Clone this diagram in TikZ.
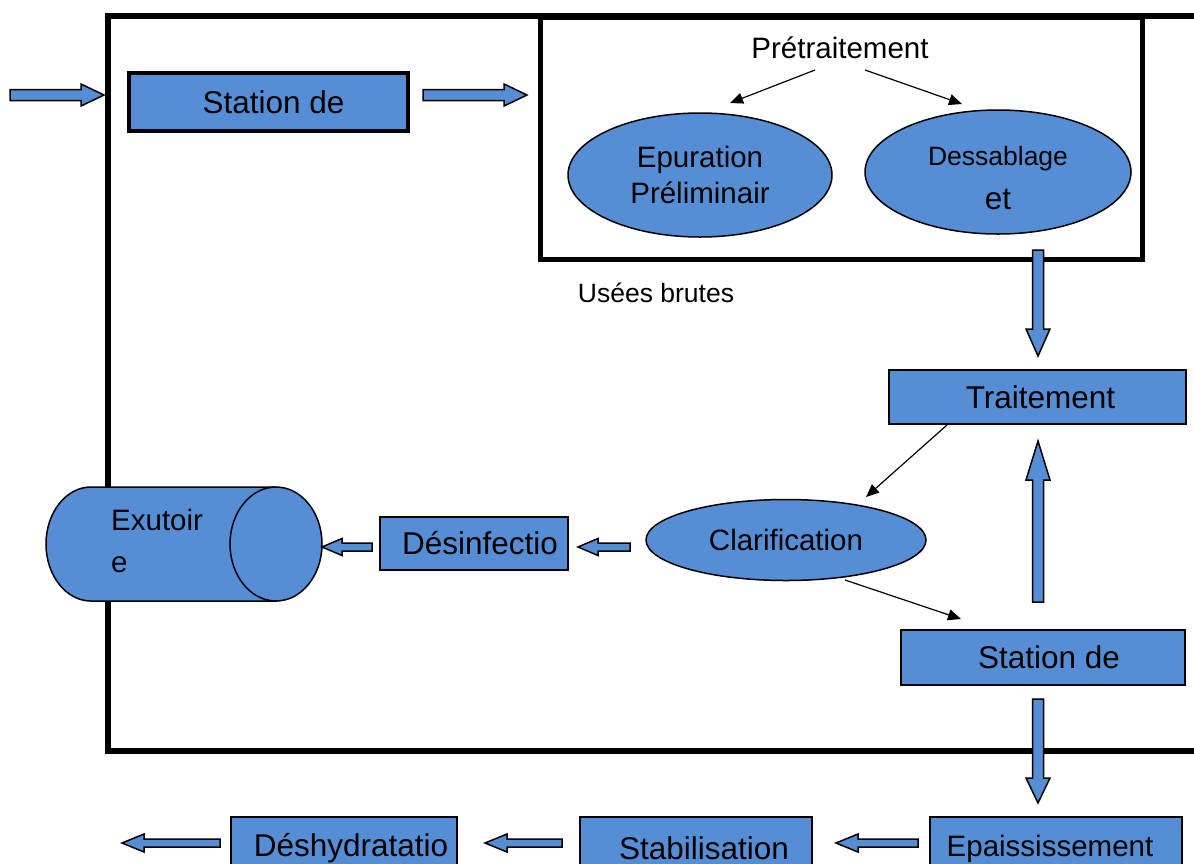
\documentclass[tikz,border=0pt]{standalone}
\usepackage{fontspec}
\setmainfont{Liberation Sans}
\usetikzlibrary{shapes.geometric,arrows.meta,calc}
\definecolor{boxblue}{RGB}{85,142,213}
\newcommand\fsA{\fontsize{31.5}{36}\selectfont}
\newcommand\fsB{\fontsize{29.5}{36}\selectfont}
\newcommand\fsC{\fontsize{26.5}{30}\selectfont}
% block arrow: #1 start, #2 tip, #3 half shaft, #4 half head, #5 head length
\newcommand\blockarr[5]{%
  \coordinate (ba-h) at ($(#2)!#5!(#1)$);
  \draw[blockarrow] ($(#1)!#3!90:(#2)$) -- ($(ba-h)!#3!90:(#2)$) -- ($(ba-h)!#4!90:(#2)$) -- (#2)
    -- ($(ba-h)!#4!-90:(#2)$) -- ($(ba-h)!#3!-90:(#2)$) -- ($(#1)!#3!-90:(#2)$) -- cycle;}
\begin{document}
\begin{tikzpicture}[x=1pt,y=-1pt,line join=miter,
  box/.style={draw=black, line width=1.5pt, fill=boxblue, inner sep=0pt, font=\fsA},
  oval/.style={ellipse, draw=black, line width=1.5pt, fill=boxblue, inner sep=0pt, align=center},
  blockarrow/.style={draw=black, line width=1.5pt, fill=boxblue},
  thinarrow/.style={draw=black, line width=1.2pt, -{Triangle[length=13pt,width=11pt]}},
  frameline/.style={draw=black, line width=6.5pt},
  innerline/.style={draw=black, line width=5pt}]
\useasboundingbox (0,0) rectangle (1194,863);
\clip (0,0) rectangle (1194,863);

% frames
\draw[frameline] (1210,16) -- (108,16) -- (108,751) -- (1210,751);
\draw[innerline] (540,17) rectangle (1142,259);

% top row
\node[box, line width=3.5pt, minimum width=279pt, minimum height=58pt] (st1) at (268.5,102) {\hspace*{10pt}Station de};
\node[font=\fsB] (pre) at (840,48) {Prétraitement};
\node[oval, minimum width=264pt, minimum height=124pt, font=\fontsize{29.5}{36}\selectfont] (epu) at (700,175) {Epuration\\Préliminair};
\node[oval, minimum width=266pt, minimum height=124pt,
  label={[font=\fontsize{26.5}{44}\selectfont, align=center, yshift=-6pt]center:{Dessablage\\{\fontsize{31.5}{44}\selectfont et}}}] (des) at (998,172) {};
\node[font=\fsC] (use) at (656,293) {Usées brutes};

% right column
\node[box, minimum width=297pt, minimum height=54pt] (tra) at (1037.5,397) {\hspace*{6pt}Traitement};
\node[oval, minimum width=280pt, minimum height=81pt, font=\fsB] (cla) at (786,540) {\raisebox{-2pt}{Clarification}};
\node[box, minimum width=284pt, minimum height=55pt] (st2) at (1043,657.5) {\hspace*{12pt}\raisebox{-2pt}{Station de}};
\node[box, minimum width=188pt, minimum height=53pt] (dsf) at (474,543.5) {\hspace*{12pt}\raisebox{-2pt}{Désinfectio}};

% cylinder (Exutoire)
\path[fill=boxblue, draw=black, line width=1.5pt] (276,487) -- (91,487)
  arc[start angle=90, end angle=270, x radius=45pt, y radius=57pt] -- (276,601) -- cycle;
\node[ellipse, draw=black, fill=boxblue, line width=1.5pt, minimum width=92pt, minimum height=114pt, inner sep=0pt] (exu) at (276,544) {};
\node[anchor=west, align=left, font=\fontsize{29.5}{42}\selectfont, inner sep=0pt] (exut) at (111,541) {Exutoir\\e};

% bottom row
\node[box, minimum width=252pt, minimum height=63pt, font=\fsB] (epa) at (1056,848.5) {\hspace*{-12pt}Epaississement};
\node[box, minimum width=232pt, minimum height=63pt] (sta) at (696,848.5) {\hspace*{16pt}Stabilisation};
\node[box, minimum width=226pt, minimum height=63pt] (dsh) at (344,848.5) {\hspace*{14pt}Déshydratatio};

% coordinates for connectors
\coordinate (in0) at (10,95);
\coordinate (in1) at (104,95);
\coordinate (o1) at (423,95);
\coordinate (o2) at (527,95);
\coordinate (d1a) at (1038,250);
\coordinate (d1b) at (1038,356);
\coordinate (u1a) at (1038,602);
\coordinate (u1b) at (1038,441);
\coordinate (d2a) at (1038,699);
\coordinate (d2b) at (1038,803);
\coordinate (c1a) at (630,547);
\coordinate (c1b) at (578,547);
\coordinate (c2a) at (372,547);
\coordinate (c2b) at (322,547);
\coordinate (b1a) at (918,843);
\coordinate (b1b) at (836,843);
\coordinate (b2a) at (562,843);
\coordinate (b2b) at (485,843);
\coordinate (b3a) at (220,843);
\coordinate (b3b) at (122,843);

% block arrows
\blockarr{in0}{in1}{5.5pt}{11pt}{23pt}
\blockarr{o1}{o2}{5.5pt}{11pt}{23pt}
\blockarr{d1a}{d1b}{5.5pt}{12pt}{27pt}
\blockarr{u1a}{u1b}{5.5pt}{12pt}{39pt}
\blockarr{d2a}{d2b}{5.5pt}{12pt}{25pt}
\blockarr{c1a}{c1b}{4pt}{8.5pt}{20pt}
\blockarr{c2a}{c2b}{4pt}{8.5pt}{20pt}
\blockarr{b1a}{b1b}{4pt}{9pt}{22pt}
\blockarr{b2a}{b2b}{4pt}{9pt}{22pt}
\blockarr{b3a}{b3b}{4pt}{9pt}{22pt}

% thin arrows
\coordinate (t1a) at (815,70);
\coordinate (t1b) at (730,103);
\coordinate (t2a) at (865,70);
\coordinate (t2b) at (962,104);
\coordinate (t3a) at (947,425);
\coordinate (t3b) at (866,497);
\coordinate (t4a) at (845,580);
\coordinate (t4b) at (961,619);
\draw[thinarrow] (t1a) -- (t1b);
\draw[thinarrow] (t2a) -- (t2b);
\draw[thinarrow] (t3a) -- (t3b);
\draw[thinarrow] (t4a) -- (t4b);
\end{tikzpicture}
\end{document}
